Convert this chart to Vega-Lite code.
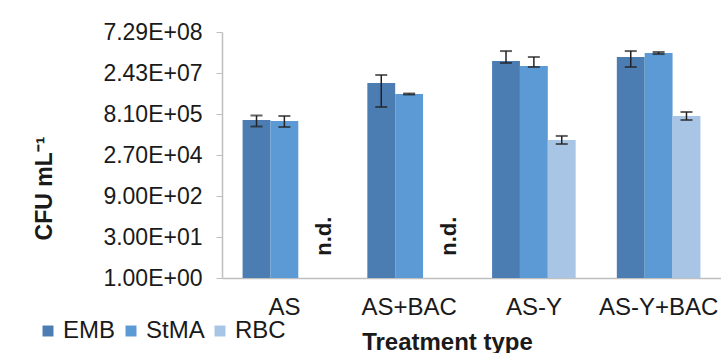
{
  "$schema": "https://vega.github.io/schema/vega-lite/v6.json",
  "width": 499,
  "height": 246,
  "autosize": {"type": "none"},
  "padding": {"left": 222, "top": 32, "right": 0, "bottom": 75},
  "background": "white",
  "config": {"font": "Liberation Sans", "view": {"stroke": null}},
  "datasets": {
    "bars": [
      {"treatment": "AS", "series": "EMB", "value": 493000, "lo": 287000, "hi": 716000},
      {"treatment": "AS", "series": "StMA", "value": 453000, "lo": 275000, "hi": 687000},
      {"treatment": "AS+BAC", "series": "EMB", "value": 10600000, "lo": 1450000, "hi": 20600000},
      {"treatment": "AS+BAC", "series": "StMA", "value": 4250000, "lo": 4070000, "hi": 4430000},
      {"treatment": "AS-Y", "series": "EMB", "value": 65700000, "lo": 55700000, "hi": 150000000},
      {"treatment": "AS-Y", "series": "StMA", "value": 43400000, "lo": 39900000, "hi": 91400000},
      {"treatment": "AS-Y", "series": "RBC", "value": 93600, "lo": 67200, "hi": 131000},
      {"treatment": "AS-Y+BAC", "series": "EMB", "value": 91400000, "lo": 39900000, "hi": 150000000},
      {"treatment": "AS-Y+BAC", "series": "StMA", "value": 128000000, "lo": 117000000, "hi": 139000000},
      {"treatment": "AS-Y+BAC", "series": "RBC", "value": 687000, "lo": 493000, "hi": 957000}
    ],
    "nd": [
      {"treatment": "AS", "series": "RBC", "label": "n.d."},
      {"treatment": "AS+BAC", "series": "RBC", "label": "n.d."}
    ]
  },
  "encoding": {
    "x": {
      "field": "treatment",
      "type": "nominal",
      "sort": ["AS", "AS+BAC", "AS-Y", "AS-Y+BAC"],
      "scale": {"paddingInner": 0.33, "paddingOuter": 0.165},
      "axis": {
        "title": "Treatment type",
        "titleFontSize": 24,
        "titleFontWeight": "bold",
        "titleColor": "#1a1a1a",
        "titleX": 225,
        "titleY": 71,
        "titleBaseline": "alphabetic",
        "titleAnchor": null,
        "labelAngle": 0,
        "labelFontSize": 24,
        "labelColor": "#1a1a1a",
        "labelPadding": 17,
        "labelBaseline": "top",
        "ticks": false,
        "tickSize": 0,
        "domainColor": "#BFBFBF",
        "domainWidth": 1.5,
        "grid": false
      }
    },
    "xOffset": {
      "field": "series",
      "type": "nominal",
      "sort": ["EMB", "StMA", "RBC"],
      "scale": {"domain": ["EMB", "StMA", "RBC"], "paddingInner": 0, "paddingOuter": 0}
    }
  },
  "layer": [
    {
      "data": {"name": "bars"},
      "mark": {"type": "bar"},
      "encoding": {
        "y": {
          "field": "value",
          "type": "quantitative",
          "stack": null,
          "title": "CFU mL⁻¹",
          "scale": {"type": "log", "base": 30, "domain": [1, 729000000], "nice": false},
          "axis": {
            "values": [1, 30, 900, 27000, 810000, 24300000, 729000000],
            "labelExpr": "format(datum.value / pow(10, floor(log(datum.value) / LN10 + 1e-9)), '.2f') + 'E+' + pad(floor(log(datum.value) / LN10 + 1e-9) + '', 2, '0', 'left')",
            "labelFontSize": 23,
            "labelColor": "#1a1a1a",
            "labelPadding": 14,
            "tickSize": 6,
            "tickColor": "#BFBFBF",
            "domainColor": "#BFBFBF",
            "domainWidth": 1.5,
            "grid": false,
            "titleFontSize": 23,
            "titleFontWeight": "bold",
            "titleColor": "#1a1a1a",
            "titleAngle": -90,
            "titleX": -178,
            "titleY": 156,
            "titleAlign": "center",
            "titleBaseline": "middle",
            "titleAnchor": null
          }
        },
        "y2": {"datum": 1},
        "color": {
          "field": "series",
          "type": "nominal",
          "scale": {"domain": ["EMB", "StMA", "RBC"], "range": ["#4B7DB3", "#5B9AD5", "#A8C5E6"]},
          "legend": {
            "orient": "none",
            "legendX": -186,
            "legendY": 287,
            "direction": "horizontal",
            "title": null,
            "symbolType": "square",
            "symbolSize": 120,
            "symbolStrokeWidth": 0,
            "symbolOpacity": 1,
            "labelFontSize": 24,
            "labelColor": "#1a1a1a",
            "labelOffset": 3,
            "columnPadding": 3,
            "padding": 0
          }
        }
      }
    },
    {
      "data": {"name": "bars"},
      "mark": {"type": "rule", "color": "#222222", "strokeWidth": 1.5},
      "encoding": {
        "y": {"field": "lo", "type": "quantitative", "title": "CFU mL⁻¹"},
        "y2": {"field": "hi"}
      }
    },
    {
      "data": {"name": "bars"},
      "mark": {"type": "tick", "color": "#222222", "size": 12, "thickness": 2},
      "encoding": {
        "y": {"field": "lo", "type": "quantitative", "title": "CFU mL⁻¹"}
      }
    },
    {
      "data": {"name": "bars"},
      "mark": {"type": "tick", "color": "#222222", "size": 12, "thickness": 2},
      "encoding": {
        "y": {"field": "hi", "type": "quantitative", "title": "CFU mL⁻¹"}
      }
    },
    {
      "data": {"name": "nd"},
      "mark": {"type": "text", "angle": 270, "fontSize": 22, "fontWeight": "bold", "color": "#1a1a1a", "align": "center", "baseline": "middle", "dy": 12},
      "encoding": {
        "y": {"datum": 32, "type": "quantitative"},
        "text": {"field": "label"}
      }
    }
  ]
}
